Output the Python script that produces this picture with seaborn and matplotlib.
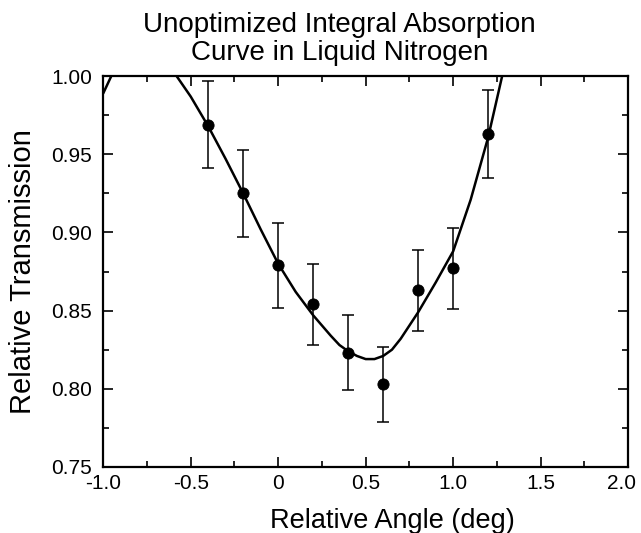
import matplotlib
matplotlib.use("Agg")
import matplotlib.pyplot as plt
import matplotlib.transforms as mtransforms
import seaborn as sns
import pandas as pd
from matplotlib.ticker import MultipleLocator

# measured points
angle = [-0.4, -0.2, 0.0, 0.2, 0.4, 0.6, 0.8, 1.0, 1.2]
trans = [0.969, 0.925, 0.879, 0.854, 0.823, 0.803, 0.863, 0.877, 0.963]
err = [0.028, 0.028, 0.027, 0.026, 0.024, 0.024, 0.026, 0.026, 0.028]

# fitted curve
fit_x = [-1.0, -0.95, -0.85, -0.75, -0.65, -0.58, -0.5, -0.4, -0.3, -0.2, -0.1,
         0.0, 0.1, 0.2, 0.3, 0.35, 0.4, 0.45, 0.5, 0.55, 0.6, 0.65, 0.7, 0.8,
         0.9, 1.0, 1.1, 1.2, 1.3]
fit_y = [0.989, 1.001, 1.012, 1.015, 1.010, 1.000, 0.987, 0.968, 0.947, 0.925, 0.902,
         0.880, 0.862, 0.847, 0.834, 0.828, 0.824, 0.821, 0.819, 0.819, 0.821, 0.825, 0.832, 0.849,
         0.868, 0.888, 0.921, 0.961, 1.010]

sns.set_style("ticks")
plt.rcParams["font.family"] = ["Liberation Sans", "DejaVu Sans"]
plt.rcParams["text.color"] = "black"
plt.rcParams["axes.labelcolor"] = "black"
plt.rcParams["xtick.color"] = "black"
plt.rcParams["ytick.color"] = "black"
plt.rcParams["axes.edgecolor"] = "black"
plt.rcParams["axes.linewidth"] = 1.6

fig = plt.figure(figsize=(6.41, 5.33), dpi=100)
ax = fig.add_axes([0.161, 0.124, 0.819, 0.733])

fit = pd.DataFrame({"x": fit_x, "y": fit_y})
pts = pd.DataFrame({"x": angle, "y": trans})

sns.lineplot(data=fit, x="x", y="y", color="black", linewidth=1.8, ax=ax, sort=False)
ax.errorbar(angle, trans, yerr=err, fmt="none", ecolor="black", elinewidth=1.1,
            capsize=4, capthick=1.1)
sns.scatterplot(data=pts, x="x", y="y", color="black", s=65, edgecolor="black", ax=ax, zorder=5)

ax.set_xlim(-1.0, 2.0)
ax.set_ylim(0.75, 1.00)
ax.set_xticks([-1.0, -0.5, 0, 0.5, 1.0, 1.5, 2.0])
ax.set_xticklabels(["-1.0", "-0.5", "0", "0.5", "1.0", "1.5", "2.0"])
ax.set_yticks([0.75, 0.80, 0.85, 0.90, 0.95, 1.00])
ax.set_yticklabels(["0.75", "0.80", "0.85", "0.90", "0.95", "1.00"])
ax.xaxis.set_minor_locator(MultipleLocator(0.25))
ax.yaxis.set_minor_locator(MultipleLocator(0.025))
ax.tick_params(which="both", direction="in", top=True, right=True, width=1.2)
ax.tick_params(which="major", length=7, labelsize=15)
ax.tick_params(axis="x", which="major", pad=5)
ax.tick_params(axis="y", which="major", pad=8)
ax.tick_params(which="minor", length=4)

# last x label sits a bit left so it stays inside the figure
last = ax.get_xticklabels()[-1]
last.set_transform(last.get_transform() + mtransforms.ScaledTranslation(-7 / 100, 0, fig.dpi_scale_trans))

ax.set_xlabel("Relative Angle (deg)", fontsize=19.5)
ax.xaxis.set_label_coords(0.55, -0.105)
ax.set_ylabel("Relative Transmission", fontsize=21, labelpad=10)
ax.set_title("Unoptimized Integral Absorption\nCurve in Liquid Nitrogen", fontsize=20,
             pad=12, linespacing=1.1, x=0.45)

fig.savefig("out.png", dpi=100)
